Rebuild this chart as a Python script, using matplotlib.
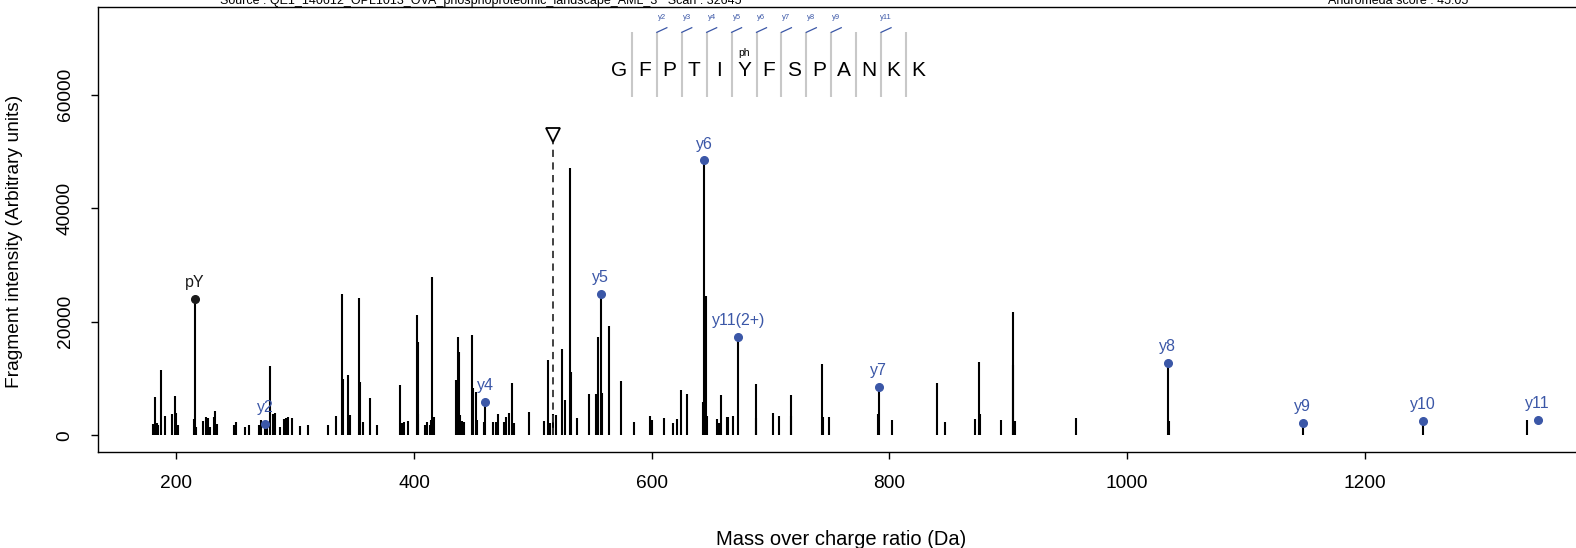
import numpy as np
import matplotlib
matplotlib.use("Agg")
import matplotlib.pyplot as plt

plt.rcParams['font.family'] = ['Liberation Sans', 'DejaVu Sans']

# fragment peaks (m/z, intensity)
peak_mz = [180.4, 182.1, 183.8, 185.0, 186.8, 190.7, 196.6, 198.6, 200.0, 201.4,
           214.6, 215.4, 216.6, 222.5, 225.2, 226.9, 228.0, 231.7, 232.8, 234.2,
           248.8, 250.5, 257.5, 260.8, 269.6, 271.3, 274.6, 276.3, 278.8, 281.0,
           283.0, 287.5, 290.9, 292.3, 294.0, 297.3, 304.3, 310.8, 328.1, 334.6,
           339.6, 340.7, 344.7, 345.8, 353.7, 354.8, 357.1, 362.6, 369.1, 387.9,
           389.3, 390.7, 392.0, 394.9, 402.2, 403.0, 403.8, 409.5, 410.9, 413.1,
           414.5, 415.6, 416.8, 435.5, 436.7, 438.1, 438.9, 440.3, 441.7, 448.8,
           449.8, 452.4, 453.2, 459.1, 460.0, 466.4, 468.9, 470.6, 475.9, 477.4,
           479.9, 482.7, 484.3, 497.0, 509.0, 512.7, 514.1, 517.4, 519.4, 524.7,
           527.0, 531.0, 532.0, 537.1, 546.9, 553.1, 554.8, 557.0, 558.1, 564.0,
           574.0, 585.2, 598.9, 600.2, 610.0, 617.9, 621.2, 625.0, 629.6, 643.1,
           644.2, 645.4, 646.5, 654.9, 656.8, 658.2, 663.3, 664.6, 668.8, 673.0,
           687.4, 687.9, 702.0, 707.3, 717.1, 717.6, 743.4, 744.0, 749.3, 790.3,
           791.1, 802.3, 840.2, 847.2, 872.2, 875.5, 876.4, 894.0, 903.6, 904.4,
           905.8, 957.4, 1034.3, 1035.4, 1147.8, 1248.8, 1336.2]
peak_int = [2000, 6700, 2200, 1900, 11500, 3400, 3700, 7000, 3900, 1900,
            2900, 24000, 1400, 2500, 3200, 3000, 1400, 3300, 4200, 2000,
            1900, 2300, 1500, 1900, 1800, 2700, 2000, 2100, 12200, 3700,
            3900, 1500, 2900, 3100, 3200, 3000, 1700, 1900, 1900, 3400,
            24900, 10000, 10600, 3600, 24100, 9400, 2400, 6600, 1800, 8900,
            2100, 2200, 2300, 2600, 21200, 16400, 3800, 1800, 2400, 1900,
            2700, 27800, 3200, 9700, 17400, 14700, 3600, 2500, 2400, 17700,
            8300, 7700, 2700, 2400, 5900, 2300, 2300, 3700, 2300, 3300,
            4000, 9300, 2100, 4100, 2600, 13200, 2100, 3800, 3500, 15200,
            6200, 47100, 11200, 3000, 7300, 7300, 17400, 24900, 7400, 19300,
            9500, 2400, 3400, 2700, 3000, 2100, 2800, 7900, 7300, 5800,
            48400, 24500, 3400, 2800, 2100, 7100, 3300, 3200, 3400, 17400,
            3000, 9100, 4000, 3400, 3400, 7100, 12500, 3200, 3200, 3700,
            8500, 2700, 9300, 2400, 2800, 13000, 3800, 2700, 21800, 12300,
            2500, 3100, 12700, 2600, 2200, 2600, 2700]

# annotated ions
ion_labels = ['pY', 'y2', 'y4', 'y5', 'y6', 'y11(2+)', 'y7', 'y8', 'y9', 'y10', 'y11']
ion_mz = [215.4, 274.6, 460.0, 557.0, 644.2, 673.0, 791.1, 1034.3, 1147.8, 1248.8, 1345.5]
ion_int = [24000, 2000, 5900, 24900, 48400, 17400, 8500, 12700, 2200, 2600, 2700]
ion_colors = ['#1a1a1a'] + ['#3B57A7'] * 10

precursor_mz = 517.0
precursor_y = 52900

# peptide sequence
sequence = ['G', 'F', 'P', 'T', 'I', 'Y', 'F', 'S', 'P', 'A', 'N', 'K', 'K']
modifications = ['', '', '', '', '', 'ph', '', '', '', '', '', '', '']
sep_ions = ['', 'y2', 'y3', 'y4', 'y5', 'y6', 'y7', 'y8', 'y9', '', 'y11', '']

blue = '#3B57A7'

fig = plt.figure(figsize=(15.76, 5.48), dpi=100)
ax = fig.add_axes([0.0619, 0.1745, 0.9489, 0.8135])

ax.vlines(peak_mz, 0, peak_int, color='black', lw=1.5)

# precursor
ax.vlines(precursor_mz, 0, precursor_y, color='#333333', lw=1.3, linestyles=(0, (4, 3)))
ax.plot(precursor_mz, precursor_y, marker='v', ms=10, mfc='white', mec='black', mew=1.3, zorder=5)

for lab, x, y, c in zip(ion_labels, ion_mz, ion_int, ion_colors):
    ax.plot(x, y, 'o', ms=5.5, color=c, zorder=4)
    ax.annotate(lab, (x, y), xytext=(0, 8.5), textcoords='offset points',
                ha='center', va='baseline', fontsize=11.5, color=c)

# sequence drawing
seq_center = 698.7
seq_step = 20.96
n = len(sequence)
letter_x = [seq_center + (i - (n - 1) / 2) * seq_step for i in range(n)]
for i, aa in enumerate(sequence):
    ax.text(letter_x[i], 64200, aa, ha='center', va='center', fontsize=15)
    if modifications[i]:
        ax.text(letter_x[i], 67300, modifications[i], ha='center', va='center', fontsize=7.5)
for i in range(1, n):
    sx = (letter_x[i - 1] + letter_x[i]) / 2
    ax.plot([sx, sx], [59600, 71100], color='#c8c8c8', lw=1.5, solid_capstyle='butt')
    lab = sep_ions[i - 1]
    if lab:
        ax.plot([sx, sx + 8.4], [70970, 71780], color=blue, lw=0.9)
        ax.text(sx + 4.2, 73550, lab, ha='center', va='center', fontsize=5.5, color=blue)

ax.set_xlim(133.8, 1392)
ax.set_ylim(-3000, 75500)
ax.set_xticks([200, 400, 600, 800, 1000, 1200])
ax.set_yticks([0, 20000, 40000, 60000])
ax.tick_params(axis='both', direction='out', length=5, width=1, labelsize=13.8)
ax.tick_params(axis='x', pad=11.4)
ax.tick_params(axis='y', pad=12.2)
for lab in ax.get_yticklabels():
    lab.set_rotation(90)
    lab.set_va('center')
for sp in ax.spines.values():
    sp.set_linewidth(1.0)

fig.text(15 / 1576, 0.5597, 'Fragment intensity (Arbitrary units)', rotation=90,
         ha='center', va='center', fontsize=13.8)
fig.text(0.5334, 0.015, 'Mass over charge ratio (Da)', ha='center', va='center', fontsize=14.5)

fig.text(220 / 1576, 1 - 4 / 548,
         'Source : QE1_140612_OPL1013_OVA_phosphoproteomic_landscape_AML_3   Scan : 32645',
         ha='left', va='baseline', fontsize=9)
fig.text(1468 / 1576, 1 - 4 / 548, 'Andromeda score : 45.05',
         ha='right', va='baseline', fontsize=9)

fig.savefig('out.png', dpi=100)
